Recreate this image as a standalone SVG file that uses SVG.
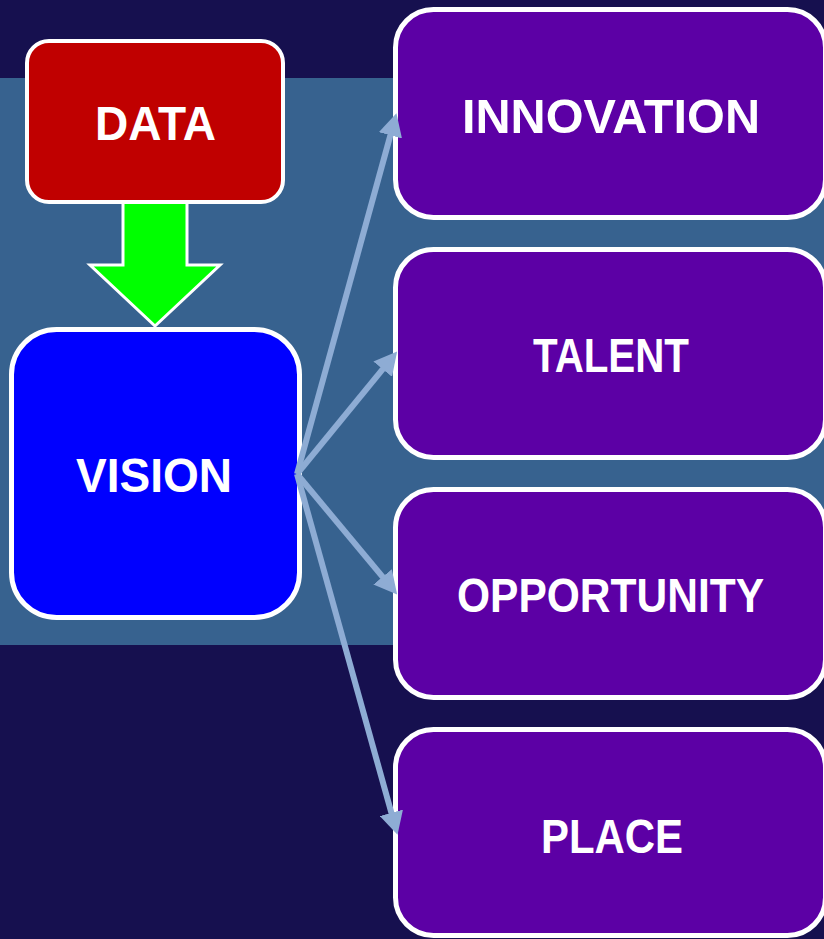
<svg xmlns="http://www.w3.org/2000/svg" width="824" height="939" viewBox="0 0 824 939">
  <defs>
    <style>
      .box { stroke: #ffffff; }
      .purple { fill: #5c00a5; stroke: #ffffff; stroke-width: 5; }
      .lbl { font-family: "Liberation Sans", Arial, sans-serif; font-weight: bold; fill: #ffffff; text-anchor: middle; font-size: 48px; }
      .conn { stroke: #8eacd4; stroke-width: 6; fill: none; marker-end: url(#ah); }
    </style>
    <marker id="ah" viewBox="0 0 3.8 4" refX="0.5" refY="2" markerWidth="3.8" markerHeight="4" orient="auto" markerUnits="strokeWidth">
      <path d="M0,0 L3.8,2 L0,4 z" fill="#8eacd4"/>
    </marker>
  </defs>
  <rect x="0" y="0" width="824" height="939" fill="#16104f"/>
  <rect x="0" y="78" width="824" height="567" fill="#37628f"/>

  <g id="data-to-vision">
    <polygon points="123,200 187,200 187,265 220,265 155,326 90,265 123,265" fill="#00ff00" stroke="#ffffff" stroke-width="3" stroke-linejoin="miter"/>
  </g>

  <g id="data">
    <rect class="box" x="27" y="41" width="256" height="161" rx="22" fill="#c00000" stroke-width="4"/>
    <text class="lbl" x="155.5" y="140" textLength="121" lengthAdjust="spacingAndGlyphs">DATA</text>
  </g>

  <g id="vision">
    <rect class="box" x="11.5" y="329.5" width="288" height="288" rx="45" fill="#0000ff" stroke-width="5"/>
    <text class="lbl" x="154" y="492" textLength="156" lengthAdjust="spacingAndGlyphs">VISION</text>
  </g>

  <g id="innovation">
    <rect class="purple" x="395.5" y="9.5" width="430" height="208" rx="38"/>
    <text class="lbl" x="611" y="133" textLength="298" lengthAdjust="spacingAndGlyphs">INNOVATION</text>
  </g>
  <g id="talent">
    <rect class="purple" x="395.5" y="249.5" width="430" height="208" rx="38"/>
    <text class="lbl" x="611" y="372" textLength="156" lengthAdjust="spacingAndGlyphs">TALENT</text>
  </g>
  <g id="opportunity">
    <rect class="purple" x="395.5" y="489.5" width="430" height="208" rx="38"/>
    <text class="lbl" x="610.5" y="612" textLength="307" lengthAdjust="spacingAndGlyphs">OPPORTUNITY</text>
  </g>
  <g id="place">
    <rect class="purple" x="395.5" y="729.5" width="430" height="206" rx="38"/>
    <text class="lbl" x="612" y="853" textLength="142" lengthAdjust="spacingAndGlyphs">PLACE</text>
  </g>

  <g id="connectors">
    <line class="conn" x1="297" y1="474" x2="391.2" y2="132.4"/>
    <line class="conn" x1="297" y1="474" x2="384.6" y2="366.9"/>
    <line class="conn" x1="297" y1="474" x2="384.5" y2="579.2"/>
    <line class="conn" x1="297" y1="474" x2="392.2" y2="815.7"/>
  </g>
</svg>
